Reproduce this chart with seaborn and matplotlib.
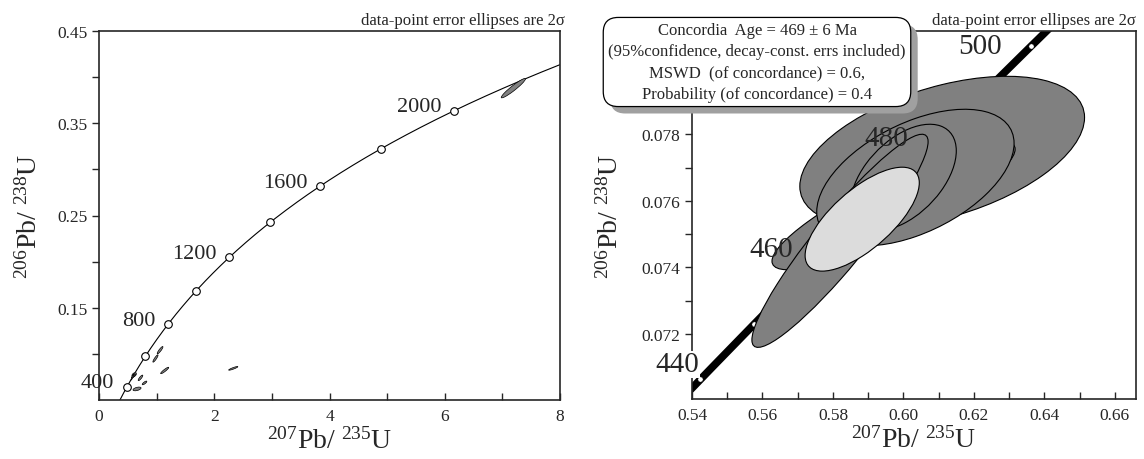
import numpy as np
import seaborn as sns
import pandas as pd
import matplotlib.pyplot as plt
import matplotlib.ticker as ticker
from matplotlib.patches import Ellipse
import matplotlib.patheffects as pe

# decay constants (1/yr)
lam238 = 1.55125e-10
lam235 = 9.8485e-10

# left panel: concordia marks every 200 Ma, labels every 400 Ma
left_ages = [400, 600, 800, 1000, 1200, 1400, 1600, 1800, 2000]
left_label_ages = [400, 800, 1200, 1600, 2000]
# right panel: marks every 10 Ma, labels every 20 Ma
right_ages = [440, 450, 460, 470, 480, 490, 500]
right_label_ages = [440, 460, 480, 500]

# error ellipses (2 sigma): x centre, y centre, x half-range, y half-range, rho
main_x = [0.611, 0.5972, 0.6034, 0.600, 0.582, 0.5883]
main_y = [0.07747, 0.07587, 0.0767, 0.0767, 0.0748, 0.07545]
main_sx = [0.0404, 0.0345, 0.028, 0.015, 0.025, 0.0162]
main_sy = [0.00227, 0.00194, 0.00205, 0.0016, 0.0032, 0.00156]
main_rho = [0.455, 0.866, 0.5, 0.5, 0.93, 0.70]
main_fill = ['#808080', '#808080', '#808080', '#808080', '#808080', '#dcdcdc']

# discordant grains, only on the wide view
other_x = [7.19, 1.06, 0.98, 1.14, 2.33, 0.66, 0.79, 0.72]
other_y = [0.388, 0.104, 0.095, 0.082, 0.0843, 0.062, 0.0685, 0.074]
other_sx = [0.21, 0.05, 0.045, 0.07, 0.08, 0.07, 0.04, 0.04]
other_sy = [0.0105, 0.004, 0.004, 0.0035, 0.002, 0.002, 0.002, 0.003]
other_rho = [0.95, 0.9, 0.9, 0.92, 0.9, 0.5, 0.8, 0.85]

box_lines = ['Concordia  Age = 469 \u00b1 6 Ma',
             '(95%confidence, decay-const. errs included)',
             'MSWD  (of concordance) = 0.6,',
             'Probability (of concordance) = 0.4']


def concordia(t_ma):
    t = np.asarray(t_ma, dtype=float) * 1e6
    return np.exp(lam235 * t) - 1, np.exp(lam238 * t) - 1


def add_ellipse(ax, x, y, sx, sy, rho, fc, lw):
    cov = np.array([[sx * sx, rho * sx * sy], [rho * sx * sy, sy * sy]])
    vals, vecs = np.linalg.eigh(cov)
    ang = np.degrees(np.arctan2(vecs[1, 1], vecs[0, 1]))
    e = Ellipse((x, y), 2 * np.sqrt(vals[1]), 2 * np.sqrt(vals[0]), angle=ang,
                facecolor=fc, edgecolor='black', lw=lw, zorder=3)
    ax.add_patch(e)


sns.set_theme(style='ticks')
plt.rcParams['font.family'] = ['Liberation Serif', 'DejaVu Serif']
plt.rcParams['mathtext.fontset'] = 'custom'
plt.rcParams['mathtext.rm'] = 'Liberation Serif'
plt.rcParams['mathtext.it'] = 'Liberation Serif:italic'

fig = plt.figure(figsize=(11.44, 4.6), dpi=100)
ax1 = fig.add_axes([99 / 1144, 59 / 460, 461 / 1144, 369 / 460])
ax2 = fig.add_axes([692 / 1144, 60 / 460, 444 / 1144, 368 / 460])

xlab = r'${}^{207}$Pb/ ${}^{235}$U'
ylab = r'${}^{206}$Pb/ ${}^{238}$U'

# ---- left panel ----
t_curve = np.linspace(300, 2300, 400)
cx, cy = concordia(t_curve)
sns.lineplot(x=cx, y=cy, sort=False, color='black', lw=0.8, ax=ax1, zorder=2)
for i in range(len(main_x)):
    add_ellipse(ax1, main_x[i], main_y[i], main_sx[i], main_sy[i], main_rho[i], '#808080', 0.4)
for i in range(len(other_x)):
    add_ellipse(ax1, other_x[i], other_y[i], other_sx[i], other_sy[i], other_rho[i], '#808080', 0.5)
mx, my = concordia(left_ages)
sns.scatterplot(x=mx, y=my, marker='o', s=30, color='white', edgecolor='black',
                linewidth=0.8, ax=ax1, zorder=4)
for a in left_label_ages:
    px, py = concordia([a])
    ax1.annotate(str(a), (px[0], py[0]), xytext=(-9, 3), textcoords='offset points',
                 ha='right', va='center', fontsize=16, zorder=5)

ax1.set_xlim(0, 8)
ax1.set_ylim(0.05, 0.45)
ax1.xaxis.set_major_locator(ticker.MultipleLocator(2))
ax1.xaxis.set_minor_locator(ticker.MultipleLocator(1))
ax1.set_yticks([0.15, 0.25, 0.35, 0.45])
ax1.set_yticks([0.1, 0.2, 0.3, 0.4], minor=True)
ax1.yaxis.set_major_formatter(ticker.FormatStrFormatter('%.2f'))

# ---- right panel ----
t_band = np.linspace(420, 520, 200)
bx, by = concordia(t_band)
sns.lineplot(x=bx, y=by, sort=False, color='black', lw=5.5, ax=ax2, zorder=1)
rx, ry = concordia(right_ages)
sns.scatterplot(x=rx, y=ry, marker='o', s=14, color='white', edgecolor='black',
                linewidth=0.3, ax=ax2, zorder=2)
for i in range(len(main_x)):
    add_ellipse(ax2, main_x[i], main_y[i], main_sx[i], main_sy[i], main_rho[i], main_fill[i], 0.8)
label_offsets = {440: (-1, 11), 460: (-11, 14), 480: (-8, 14), 500: (-21, 0)}
for a in right_label_ages:
    px, py = concordia([a])
    t = ax2.annotate(str(a), (px[0], py[0]), xytext=label_offsets[a], textcoords='offset points',
                     ha='right', va='center', fontsize=21, zorder=6)
    if a == 440:
        t.set_bbox(dict(facecolor='white', edgecolor='none', pad=0.5))

ax2.set_xlim(0.54, 0.666)
ax2.set_ylim(0.07005, 0.0811)
ax2.xaxis.set_major_locator(ticker.MultipleLocator(0.02))
ax2.xaxis.set_minor_locator(ticker.MultipleLocator(0.01))
# the 0.080 label sits under the results box, so only its tick is kept
ax2.set_yticks([0.072, 0.074, 0.076, 0.078])
ax2.set_yticks([0.071, 0.073, 0.075, 0.077, 0.079, 0.080], minor=True)
ax2.xaxis.set_major_formatter(ticker.FormatStrFormatter('%.2f'))
ax2.yaxis.set_major_formatter(ticker.FormatStrFormatter('%.3f'))

for ax in (ax1, ax2):
    ax.set_xlabel(xlab, fontsize=20)
    ax.set_ylabel(ylab, fontsize=20)
    ax.tick_params(axis='x', which='both', direction='in', labelsize=12.5, pad=6)
    ax.tick_params(axis='y', which='both', direction='out', labelsize=12.5)
    ax.tick_params(which='major', length=5, width=1)
    ax.tick_params(which='minor', length=5, width=1)
    for s in ax.spines.values():
        s.set_linewidth(1.2)
        s.set_zorder(2.5)
    ax.xaxis.labelpad = 2

ax1.text(1.01, 1.008, 'data-point error ellipses are 2\u03c3', transform=ax1.transAxes,
         ha='right', va='bottom', fontsize=12)
ax2.text(1.0, 1.008, 'data-point error ellipses are 2\u03c3', transform=ax2.transAxes,
         ha='right', va='bottom', fontsize=12)

ax1.yaxis.set_label_coords(-0.122, 0.5)
ax2.yaxis.set_label_coords(-0.153, 0.5)

box = fig.text(757 / 1144, 1 - 63 / 460, '\n'.join(box_lines), ha='center', va='center',
               fontsize=12, linespacing=1.42, zorder=10,
               bbox=dict(boxstyle='round,pad=0.3,rounding_size=0.9', facecolor='white',
                         edgecolor='black', lw=0.9))
box.get_bbox_patch().set_path_effects([
    pe.withSimplePatchShadow(offset=(5, -5), shadow_rgbFace='#a0a0a0', alpha=1.0)])

fig.savefig('out.png', dpi=100)
